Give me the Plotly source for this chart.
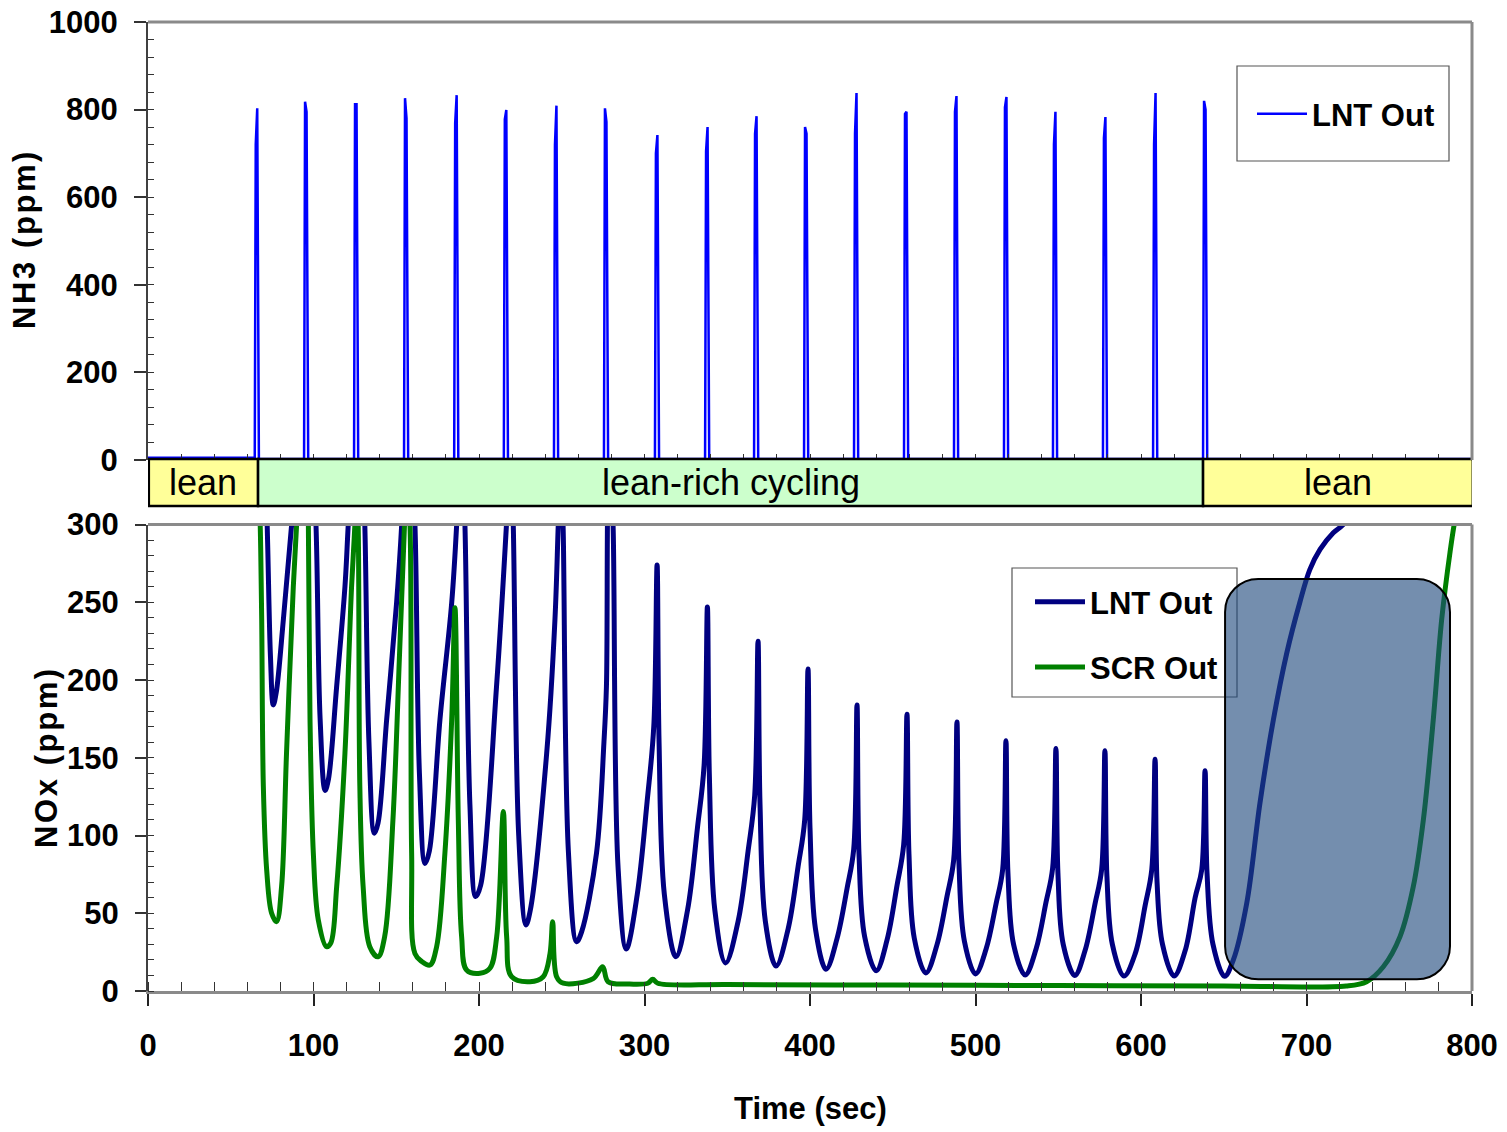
import plotly.graph_objects as go

# ---------------- data ----------------
# NH3 spikes (LNT Out, top panel)
nh3_spike_t = [64.5, 94.3, 124.5, 154.7, 185.0, 215.0, 245.3, 275.5, 306.3, 336.6,
               366.2, 396.4, 426.6, 456.8, 487.0, 517.2, 546.8, 577.0, 607.3, 637.5]
nh3_left = [720, 818, 812, 826, 769, 778, 719, 803, 700, 705,
            745, 760, 745, 790, 795, 805, 720, 735, 720, 820]
nh3_right = [803, 795, 812, 780, 833, 799, 809, 772, 742, 760,
             785, 745, 838, 795, 831, 829, 795, 783, 838, 800]
nh3_base_lean = 5
nh3_base = 2

# NOx LNT Out (bottom panel)
nox_lnt_t = [0, 40, 64, 66.5, 69, 72, 74, 75.7, 77.5, 81.8, 86.8, 92, 95.5, 98, 101.5, 104, 107, 109,
             114, 119, 121, 126.3, 129, 131, 133.5, 136.8, 139, 144.2, 150.2, 153.3, 156.5, 159, 161.3,
             164, 167.4, 170, 176.4, 183.5, 186.5, 188.5, 190, 191.5, 194.5, 198, 201, 210.6, 216.6,
             218.5, 219.7, 220.7, 224, 228.4, 231, 240.9, 245.9, 247.9, 249, 250, 250.8, 254, 259, 262,
             271, 275.5, 277, 278.5, 280, 281, 284, 289,
             295.6, 301.6, 305.6, 307.6, 308.8, 312, 319,
             326, 332, 336, 338, 339.2, 342.5, 349,
             356.6, 362.6, 366.6, 368.6, 369.8, 373, 379.5,
             386.8, 392.8, 396.8, 398.8, 400, 403.3, 409.7,
             416.4, 422.4, 426.4, 428.4, 429.6, 433, 440,
             446.6, 452.6, 456.6, 458.6, 459.8, 463, 470,
             476.8, 482.8, 486.8, 488.8, 490, 493.3, 500,
             506.4, 512.4, 516.4, 518.4, 519.6, 523, 530,
             536.6, 542.6, 546.6, 548.6, 549.8, 553, 560,
             566.2, 572.2, 576.2, 578.2, 579.4, 582.7, 589.7,
             596.5, 602.5, 606.5, 608.5, 609.7, 613, 620,
             626.7, 632.7, 636.7, 638.7, 639.9, 643.5, 650.5,
             655.8, 663.9, 671.9, 680, 688, 696, 702, 708.2, 716.2, 722.2, 735, 760, 800]
nox_lnt_v = [430, 440, 450, 470, 400, 300, 215, 184, 192, 239, 300, 370, 430, 380, 300, 175, 129, 136,
             196, 260, 300, 400, 360, 300, 160, 101.5, 108, 174.5, 249.6, 300, 380, 350, 300,
             140, 82, 90, 174.5, 249.6, 300, 350, 340, 300, 120, 60.7, 68, 196, 300,
             340, 330, 300, 100, 42.5, 52, 153, 239, 300, 330, 320, 300, 90, 31.7, 38,
             88.7, 160, 196, 330, 320, 300, 80, 27,
             62, 122, 170, 274, 160, 62, 22,
             52, 105, 145, 247, 138, 52, 18,
             45, 90, 126, 225, 120, 45, 16,
             40, 80, 110, 207, 105, 40, 14,
             34, 66, 91, 184, 88, 35, 13,
             33, 68, 94, 178, 88, 34, 11.6,
             30, 61, 84, 173, 82, 32, 11,
             27, 56, 78, 161, 76, 30, 10.3,
             27, 57, 79, 156, 76, 30, 10,
             26, 56, 78, 154.5, 74, 30, 9.7,
             24, 55, 78, 149, 70, 30, 9.7,
             26, 60, 78, 141.7, 76, 30, 9.5,
             20, 56.5, 121, 174.5, 217, 250, 271, 284, 294.7, 300, 318, 340, 360]

# NOx SCR Out (bottom panel)
nox_scr_t = [0, 60, 66, 67.2, 68, 68.7, 69.7, 71.7, 74.7, 77.7, 80.7, 83.7, 87.8, 89.8, 93, 95.5,
             96.9, 97.9, 99.9, 102.9, 107.9, 110.5, 114, 119, 123, 125, 126, 127, 128, 130, 134, 139,
             143, 148, 152, 155, 156.5, 158.3, 159.3, 161.3, 165.4, 170.4, 174.4, 179.4, 183.5, 185.5,
             187.5, 189.5, 192.5, 200.6, 206.6, 210.7, 214.7, 216.7, 219.7, 230.8, 238.8, 242.9, 244.5,
             246.9, 250.9, 269, 274.7, 278, 290, 302, 305, 308, 350, 450, 550, 650, 724,
             736.3, 746.4, 756.5, 764.5, 770.6, 776.6, 781.7, 786.7, 789.7, 800]
nox_scr_v = [430, 440, 450, 330, 290, 239, 131.5, 78, 50, 44.6, 67, 153, 260, 300, 380, 400,
             300, 174.5, 88.7, 45.7, 28.5, 31, 67, 153, 260, 300, 330, 300, 131.5, 67, 28.5, 22,
             35, 110, 217, 300, 330, 300, 88.7, 24, 19, 16.7, 28.5, 88.7, 174.5, 246.4,
             110, 35, 13.5, 11.4, 14.6, 35, 115.5, 35, 9.2, 6, 9.2, 24, 44.6,
             9.2, 5, 8, 15.6, 6, 4.5, 5, 7.5, 5, 4.2, 3.8, 3.5, 3.2, 3.2,
             6, 15.6, 35, 67, 110, 174.5, 239, 282, 303, 360]

# phase bands
phase_names = ["lean", "lean-rich cycling", "lean"]
phase_start = [0.5, 66.5, 637.5]
phase_end = [66.5, 637.5, 800.5]
phase_colors = ["#FFFF99", "#CCFFCC", "#FFFF99"]

# highlighted region (bottom panel)
box_x = [650.8, 786.7]
box_y = [7.5, 265]

# ---------------- build NH3 series ----------------
nh3_t = [0, nh3_spike_t[0] - 0.3]
nh3_v = [nh3_base_lean, nh3_base_lean]
for ts, vl, vr in zip(nh3_spike_t, nh3_left, nh3_right):
    nh3_t += [ts, ts + 0.6, ts + 1.5, ts + 2.5]
    nh3_v += [nh3_base, vl, vr, nh3_base]
nh3_t.append(800)
nh3_v.append(nh3_base)

FB = "Liberation Sans, Arial"
FR = "Liberation Sans, Arial"

fig = go.Figure()
fig.add_trace(go.Scatter(x=nh3_t, y=nh3_v, mode="lines", name="LNT Out",
                         line=dict(color="#0000FF", width=2.5),
                         xaxis="x", yaxis="y", legend="legend"))
fig.add_trace(go.Scatter(x=nox_lnt_t, y=nox_lnt_v, mode="lines", name="LNT Out",
                         line=dict(color="#000080", width=5, shape="spline", smoothing=1.0),
                         xaxis="x2", yaxis="y2", legend="legend2", legendgroup="a"))
fig.add_trace(go.Scatter(x=nox_scr_t, y=nox_scr_v, mode="lines", name="SCR Out",
                         line=dict(color="#008000", width=5, shape="spline", smoothing=1.0),
                         xaxis="x2", yaxis="y2", legend="legend2", legendgroup="b"))

W, H = 1507, 1132
L, R, T, B = 148, 35, 22, 141
PW = W - L - R
PH = H - T - B


def px(xp):
    return (xp - L) / PW


def py(yp):
    return (H - B - yp) / PH


top_bot = py(460)
bot_top = py(524.5)
band_top = py(459)
band_bot = py(506)

tickfont = dict(family=FB, size=31, color="black", weight="bold")

shapes = []
for s, e, c in zip(phase_start, phase_end, phase_colors):
    shapes.append(dict(type="rect", xref="x2", yref="paper", x0=s, x1=e, y0=band_bot, y1=band_top,
                       fillcolor=c, line=dict(color="black", width=2.5), layer="above"))
# gray frame lines
for yr, xr in (("y domain", "x domain"), ("y2 domain", "x2 domain")):
    shapes.append(dict(type="line", xref=xr, yref=yr, x0=0, x1=1, y0=1, y1=1,
                       line=dict(color="#8a8a8a", width=3)))
    shapes.append(dict(type="line", xref=xr, yref=yr, x0=1, x1=1, y0=0, y1=1,
                       line=dict(color="#8a8a8a", width=3)))
# legend frames
shapes.append(dict(type="rect", xref="paper", yref="paper", x0=px(1237), x1=px(1449),
                   y0=py(161), y1=py(66), line=dict(color="#555", width=1.2), layer="above"))
shapes.append(dict(type="rect", xref="paper", yref="paper", x0=px(1012), x1=px(1237),
                   y0=py(697), y1=py(568), line=dict(color="#555", width=1.2), layer="above"))

# rounded rectangle
x0, x1 = box_x
y0, y1 = box_y
rx, ry = 20.0, 21.2
k = 0.5523
path = (f"M {x0+rx},{y0} L {x1-rx},{y0} "
        f"C {x1-rx+k*rx},{y0} {x1},{y0+ry-k*ry} {x1},{y0+ry} "
        f"L {x1},{y1-ry} "
        f"C {x1},{y1-ry+k*ry} {x1-rx+k*rx},{y1} {x1-rx},{y1} "
        f"L {x0+rx},{y1} "
        f"C {x0+rx-k*rx},{y1} {x0},{y1-ry+k*ry} {x0},{y1-ry} "
        f"L {x0},{y0+ry} "
        f"C {x0},{y0+ry-k*ry} {x0+rx-k*rx},{y0} {x0+rx},{y0} Z")
shapes.append(dict(type="path", xref="x2", yref="y2", path=path,
                   fillcolor="rgba(31,73,125,0.62)", line=dict(color="black", width=2),
                   layer="above"))

HS = "\u200a"
annotations = []
for n, s, e in zip(phase_names, phase_start, phase_end):
    annotations.append(dict(text=n, xref="x2", yref="paper", x=(s + e) / 2,
                            y=(band_top + band_bot) / 2, showarrow=False,
                            font=dict(family=FR, size=36, color="black"),
                            xanchor="center", yanchor="middle"))
annotations.append(dict(text=HS.join("NH3 (ppm)"), xref="paper", yref="paper",
                        x=px(25), y=py(241), textangle=-90, xanchor="center", yanchor="middle",
                        showarrow=False, font=dict(family=FB, size=31, color="black", weight="bold")))
annotations.append(dict(text=HS.join("NOx (ppm)"), xref="paper", yref="paper",
                        x=px(46), y=py(759), textangle=-90, xanchor="center", yanchor="middle",
                        showarrow=False, font=dict(family=FB, size=31, color="black", weight="bold")))
annotations.append(dict(text="Time (sec)", xref="paper", yref="paper",
                        x=px(810), y=py(1108), xanchor="center", yanchor="middle",
                        showarrow=False, font=dict(family=FB, size=31, color="black", weight="bold")))

fig.update_layout(
    width=W, height=H, margin=dict(l=L, r=R, t=T, b=B, autoexpand=False),
    paper_bgcolor="white", plot_bgcolor="white",
    showlegend=True,
    xaxis=dict(domain=[0, 1], range=[0, 800], anchor="y", showticklabels=False,
               ticks="inside", dtick=20, ticklen=6, tickcolor="#333", showgrid=False,
               zeroline=False, showline=False, automargin=False),
    yaxis=dict(domain=[top_bot, 1], range=[0, 1000], anchor="x", dtick=200,
               ticks="outside", ticklen=12, tickwidth=1.5, tickcolor="#333",
               minor=dict(dtick=40, ticks="inside", ticklen=6, tickcolor="#333", tickwidth=1.2),
               showline=True, linecolor="#404040", linewidth=2, showgrid=False, zeroline=False,
               tickfont=tickfont, ticklabelstandoff=10, automargin=False),
    xaxis2=dict(domain=[0, 1], range=[0, 800], anchor="y2", dtick=100,
                ticks="outside", ticklen=12, tickwidth=1.5, tickcolor="#222",
                minor=dict(dtick=20, ticks="inside", ticklen=9, tickcolor="#333", tickwidth=1.2),
                showline=True, linecolor="#8a8a8a", linewidth=3, showgrid=False, zeroline=False,
                tickfont=tickfont, ticklabelstandoff=13, automargin=False),
    yaxis2=dict(domain=[0, bot_top], range=[0, 300], anchor="x2", dtick=50,
                ticks="outside", ticklen=11, tickwidth=1.5, tickcolor="#333",
                minor=dict(dtick=10, ticks="inside", ticklen=6, tickcolor="#333", tickwidth=1.2),
                showline=True, linecolor="#404040", linewidth=2, showgrid=False, zeroline=False,
                tickfont=tickfont, ticklabelstandoff=10, automargin=False),
    legend=dict(x=px(1252), y=py(87), xanchor="left", yanchor="top",
                bgcolor="rgba(0,0,0,0)", borderwidth=0,
                font=dict(family=FB, size=31, color="black", weight="bold"), itemwidth=50),
    legend2=dict(x=px(1030), y=py(575), xanchor="left", yanchor="top",
                 bgcolor="rgba(0,0,0,0)", borderwidth=0,
                 font=dict(family=FB, size=31, color="black", weight="bold"), itemwidth=50,
                 tracegroupgap=22),
    shapes=shapes, annotations=annotations,
)

fig.write_html("out.html")
